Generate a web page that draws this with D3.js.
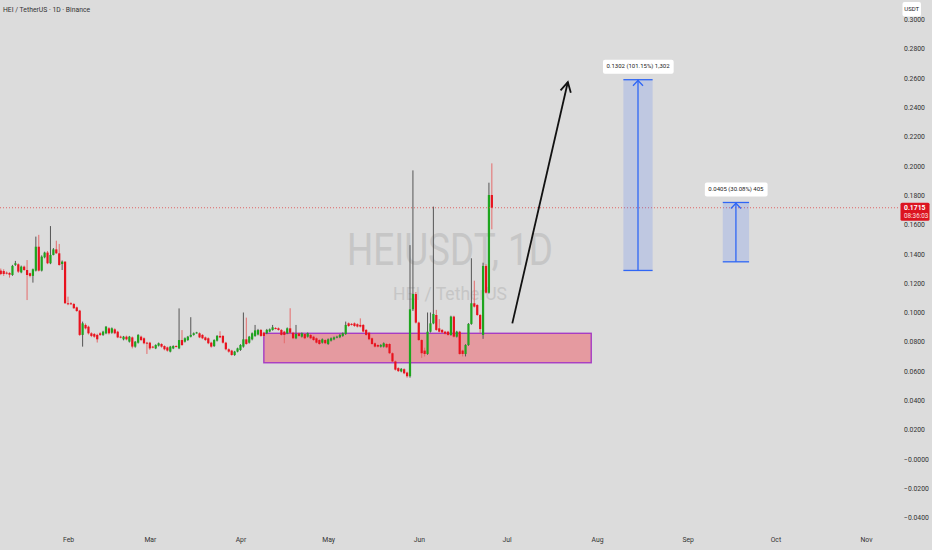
<!DOCTYPE html>
<html>
<head>
<meta charset="utf-8">
<script src="https://cdn.jsdelivr.net/npm/d3@7"></script>
<style>
  html, body { margin: 0; padding: 0; background: #dcdcdc; overflow: hidden; }
  svg { display: block; font-family: Roboto, "Noto Sans", sans-serif; }
</style>
</head>
<body>
<div id="wrapper"></div>
<script>
// daily candles, first one on 2025-01-09
const firstCandle = '2025-01-09'
const opens = [
  .1286, .1283, .1272, .1270, .1256, .1325, .1329, .1274, .1313, .1290,
  .1268, .1250, .1286, .1449, .1286, .1377, .1409, .1336, .1393, .1431,
  .1404, .1331, .1347, .1063, .1063, .1058, .1035, .1013, .0847, .0915,
  .0903, .0858, .0853, .0847, .0858, .0847, .0858, .0892, .0862, .0885,
  .0869, .0835, .0817, .0835, .0801, .0830, .0767, .0794, .0835, .0824,
  .0794, .0794, .0767, .0755, .0774, .0785, .0771, .0762, .0733, .0755,
  .0771, .0755, .0812, .0801, .0812, .0835, .0847, .0862, .0858, .0847,
  .0830, .0824, .0794, .0771, .0808, .0840, .0840, .0794, .0749, .0740,
  .0710, .0733, .0744, .0767, .0817, .0794, .0817, .0840, .0850, .0881,
  .0862, .0858, .0870, .0881, .0894, .0892, .0881, .0869, .0858, .0892,
  .0862, .0824, .0858, .0835, .0853, .0835, .0847, .0835, .0824, .0812,
  .0794, .0812, .0785, .0808, .0817, .0830, .0831, .0840, .0853, .0926,
  .0922, .0926, .0920, .0915, .0915, .0881, .0862, .0824, .0790, .0778,
  .0767, .0767, .0785, .0785, .0722, .0666, .0620, .0598, .0613, .0590,
  .0565, .1022, .1126, .0931, .0812, .0740, .0717, .0869, .0926, .0983,
  .0892, .0881, .0869, .0869, .0847, .0972, .0835, .0869, .0740, .0717,
  .0778, .0922, .1063, .1051, .0983, .0847, .1318, .1135, .1802
]
const highs = [
  .1300, .1295, .1280, .1275, .1325, .1352, .1335, .1320, .1320, .1358,
  .1272, .1300, .1518, .1530, .1390, .1415, .1420, .1590, .1440, .1490,
  .1468, .1355, .1350, .1108, .1070, .1065, .1040, .1018, .0938, .0925,
  .0910, .0865, .0860, .0855, .0866, .0875, .0908, .0900, .0898, .0892,
  .0875, .0842, .0840, .0842, .0840, .0836, .0805, .0852, .0842, .0830,
  .0800, .0800, .0772, .0783, .0795, .0790, .0776, .0767, .0772, .0776,
  .0776, .1028, .0880, .0830, .0840, .0968, .0864, .0868, .0864, .0852,
  .0836, .0830, .0800, .0817, .0846, .0872, .0846, .0800, .0755, .0745,
  .0738, .0760, .0784, .1000, .0965, .0840, .0864, .0915, .0888, .0887,
  .0868, .0888, .0891, .0915, .0900, .0898, .0887, .0875, .0898, .1029,
  .0868, .0915, .0864, .0864, .0859, .0864, .0853, .0841, .0830, .0818,
  .0823, .0818, .0823, .0830, .0836, .0841, .0853, .0864, .0938, .0932,
  .0928, .0932, .0926, .0960, .0921, .0887, .0868, .0830, .0796, .0784,
  .0784, .0796, .0791, .0791, .0728, .0672, .0626, .0621, .0619, .0596,
  .1460, .1970, .1140, .0937, .0818, .0760, .1000, .1000, .1723, .1018,
  .0955, .0887, .0875, .0875, .0978, .0978, .0875, .0875, .0746, .0784,
  .0928, .1370, .1217, .1057, .0989, .1340, .1330, .1886, .2018
]
const lows = [
  .1255, .1250, .1260, .1238, .1250, .1318, .1270, .1268, .1285, .1085,
  .1240, .1204, .1280, .1280, .1280, .1370, .1330, .1330, .1390, .1400,
  .1320, .1290, .1060, .1050, .1052, .1025, .1005, .0840, .0767, .0885,
  .0850, .0832, .0828, .0795, .0840, .0840, .0852, .0850, .0855, .0852,
  .0825, .0824, .0810, .0810, .0795, .0755, .0760, .0788, .0805, .0783,
  .0717, .0745, .0755, .0750, .0768, .0760, .0742, .0733, .0728, .0750,
  .0762, .0750, .0772, .0795, .0806, .0830, .0842, .0856, .0825, .0818,
  .0806, .0784, .0760, .0765, .0802, .0825, .0788, .0742, .0726, .0705,
  .0704, .0728, .0738, .0760, .0780, .0788, .0810, .0834, .0844, .0834,
  .0834, .0852, .0865, .0876, .0885, .0876, .0842, .0790, .0852, .0856,
  .0818, .0818, .0834, .0829, .0818, .0829, .0818, .0806, .0788, .0779,
  .0788, .0784, .0779, .0802, .0811, .0824, .0825, .0834, .0847, .0902,
  .0911, .0902, .0898, .0898, .0864, .0841, .0811, .0779, .0761, .0761,
  .0761, .0761, .0756, .0716, .0660, .0604, .0594, .0592, .0579, .0555,
  .0555, .1010, .0925, .0806, .0690, .0700, .0711, .0863, .0920, .0875,
  .0863, .0858, .0849, .0841, .0841, .0829, .0829, .0711, .0700, .0700,
  .0772, .0916, .1034, .0977, .0860, .0820, .1129, .1129, .1568
]
const closes = [
  .1263, .1263, .1268, .1258, .1318, .1336, .1279, .1313, .1290, .1256,
  .1250, .1295, .1449, .1286, .1381, .1409, .1336, .1393, .1431, .1404,
  .1324, .1347, .1063, .1058, .1058, .1029, .1010, .0847, .0926, .0892,
  .0858, .0840, .0835, .0817, .0847, .0869, .0903, .0858, .0892, .0858,
  .0830, .0830, .0835, .0817, .0835, .0767, .0801, .0847, .0812, .0790,
  .0790, .0755, .0760, .0778, .0790, .0767, .0749, .0740, .0767, .0771,
  .0767, .0812, .0778, .0824, .0835, .0847, .0858, .0864, .0830, .0824,
  .0812, .0790, .0767, .0812, .0840, .0830, .0794, .0749, .0733, .0710,
  .0733, .0755, .0778, .0817, .0785, .0835, .0858, .0878, .0880, .0840,
  .0840, .0881, .0885, .0899, .0890, .0881, .0847, .0847, .0892, .0862,
  .0824, .0853, .0840, .0858, .0824, .0858, .0824, .0812, .0794, .0785,
  .0817, .0790, .0817, .0824, .0830, .0835, .0847, .0858, .0915, .0908,
  .0917, .0908, .0904, .0904, .0870, .0847, .0817, .0785, .0767, .0767,
  .0778, .0790, .0762, .0722, .0666, .0610, .0600, .0615, .0585, .0565,
  .1022, .1126, .0931, .0812, .0722, .0717, .0869, .0926, .0990, .0881,
  .0869, .0864, .0855, .0847, .0972, .0835, .0869, .0717, .0717, .0778,
  .0922, .1063, .1040, .0983, .0887, .1318, .1135, .1802, .1715
]

const monthTicks = ['2025-02-01', '2025-03-01', '2025-04-01', '2025-05-01', '2025-06-01',
  '2025-07-01', '2025-08-01', '2025-09-01', '2025-10-01', '2025-11-01']
const priceTicks = [-0.04, -0.02, 0, 0.02, 0.04, 0.06, 0.08, 0.1, 0.12, 0.14, 0.16,
  0.18, 0.2, 0.22, 0.24, 0.26, 0.28, 0.3]

const lastPrice = 0.1715
const countdown = '08:36:03'
const quoteCurrency = 'USDT'
const headerText = 'HEI / TetherUS · 1D · Binance'
const watermarkTitle = 'HEIUSDT, 1D'
const watermarkSub = 'HEI / TetherUS'

// support zone (rectangle)
const zoneDates = ['2025-04-09', '2025-07-30']
const zonePrices = [0.0858, 0.0657]

// hand drawn arrow
const arrowDates = ['2025-07-03', '2025-07-22']
const arrowPrices = [0.0926, 0.2573]

// price range targets
const targetStart = ['2025-08-10', '2025-09-13']
const targetEnd = ['2025-08-20', '2025-09-22']
const targetFrom = [0.1287, 0.1346]
const targetTo = [0.2589, 0.1751]
const targetLabels = ['0.1302 (101.15%) 1,302', '0.0405 (30.08%) 405']

const width = 932
const height = 550
const axisLeft = 900

const parseDay = d3.utcParse('%Y-%m-%d')
const day0 = parseDay(firstCandle)
const candles = opens.map((o, i) => ({
  date: d3.utcDay.offset(day0, i),
  open: o,
  high: highs[i],
  low: lows[i],
  close: closes[i],
}))

const xScale = d3
  .scaleUtc()
  .domain([parseDay('2025-02-01'), parseDay('2025-11-01')])
  .range([68, 866])
const yScale = d3.scaleLinear().domain([0, 0.28]).range([459, 48.8])

const svg = d3
  .select('#wrapper')
  .append('svg')
  .attr('width', width)
  .attr('height', height)

svg.append('rect').attr('width', width).attr('height', height).attr('fill', '#dcdcdc')

// watermark
svg
  .append('text')
  .attr('x', 450)
  .attr('y', 265)
  .attr('text-anchor', 'middle')
  .attr('font-size', 44)
  .attr('fill', '#c6c6c6')
  .attr('textLength', 206)
  .attr('lengthAdjust', 'spacingAndGlyphs')
  .text(watermarkTitle)
svg
  .append('text')
  .attr('x', 450)
  .attr('y', 300)
  .attr('text-anchor', 'middle')
  .attr('font-size', 19)
  .attr('fill', '#c6c6c6')
  .attr('textLength', 114)
  .attr('lengthAdjust', 'spacingAndGlyphs')
  .text(watermarkSub)

// support zone
const zx0 = xScale(parseDay(zoneDates[0]))
const zx1 = xScale(parseDay(zoneDates[1]))
svg
  .append('rect')
  .attr('x', zx0)
  .attr('y', yScale(zonePrices[0]))
  .attr('width', zx1 - zx0)
  .attr('height', yScale(zonePrices[1]) - yScale(zonePrices[0]))
  .attr('fill', 'rgba(242,54,69,0.4)')
  .attr('stroke', '#a63cc4')
  .attr('stroke-width', 1.4)

// candles
const upColor = '#1ea51e'
const downColor = '#e8121e'
const candleG = svg.append('g')
candleG
  .selectAll('line')
  .data(candles)
  .join('line')
  .attr('x1', (d) => xScale(d.date))
  .attr('x2', (d) => xScale(d.date))
  .attr('y1', (d) => yScale(d.high))
  .attr('y2', (d) => yScale(d.low))
  .attr('stroke', (d) => (d.close >= d.open ? '#555' : '#e56b6b'))
  .attr('stroke-width', 1)
candleG
  .selectAll('rect')
  .data(candles)
  .join('rect')
  .attr('x', (d) => xScale(d.date) - 1.1)
  .attr('width', 2.2)
  .attr('y', (d) => yScale(Math.max(d.open, d.close)))
  .attr('height', (d) => Math.max(1, Math.abs(yScale(d.open) - yScale(d.close))))
  .attr('fill', (d) => (d.close >= d.open ? upColor : downColor))

// current price line
svg
  .append('line')
  .attr('x1', 0)
  .attr('x2', axisLeft)
  .attr('y1', yScale(lastPrice))
  .attr('y2', yScale(lastPrice))
  .attr('stroke', '#e04848')
  .attr('stroke-width', 0.8)
  .attr('stroke-dasharray', '1,2')

// arrow
const ax0 = xScale(parseDay(arrowDates[0]))
const ay0 = yScale(arrowPrices[0])
const ax1 = xScale(parseDay(arrowDates[1]))
const ay1 = yScale(arrowPrices[1])
const ang = Math.atan2(ay1 - ay0, ax1 - ax0)
const headLen = 11
const headSpread = 0.5
svg
  .append('line')
  .attr('x1', ax0)
  .attr('y1', ay0)
  .attr('x2', ax1)
  .attr('y2', ay1)
  .attr('stroke', '#111')
  .attr('stroke-width', 1.8)
svg
  .append('path')
  .attr(
    'd',
    `M${ax1 - headLen * Math.cos(ang - headSpread)},${ay1 - headLen * Math.sin(ang - headSpread)}` +
      `L${ax1},${ay1}` +
      `L${ax1 - headLen * Math.cos(ang + headSpread)},${ay1 - headLen * Math.sin(ang + headSpread)}`,
  )
  .attr('fill', 'none')
  .attr('stroke', '#111')
  .attr('stroke-width', 1.8)
  .attr('stroke-linejoin', 'miter')

// price range targets
const blue = '#2f66f5'
targetLabels.forEach((label, i) => {
  const x0 = xScale(parseDay(targetStart[i]))
  const x1 = xScale(parseDay(targetEnd[i]))
  const yTop = yScale(targetTo[i])
  const yBot = yScale(targetFrom[i])
  const cx = (x0 + x1) / 2
  const g = svg.append('g')
  g.append('rect')
    .attr('x', x0)
    .attr('y', yTop)
    .attr('width', x1 - x0)
    .attr('height', yBot - yTop)
    .attr('fill', 'rgba(41,98,255,0.16)')
  g.append('line').attr('x1', x0).attr('x2', x1).attr('y1', yTop).attr('y2', yTop)
    .attr('stroke', blue).attr('stroke-width', 1.3)
  g.append('line').attr('x1', x0).attr('x2', x1).attr('y1', yBot).attr('y2', yBot)
    .attr('stroke', blue).attr('stroke-width', 1.3)
  g.append('line').attr('x1', cx).attr('x2', cx).attr('y1', yBot).attr('y2', yTop)
    .attr('stroke', blue).attr('stroke-width', 1.3)
  g.append('path')
    .attr('d', `M${cx - 5},${yTop + 6}L${cx},${yTop + 0.8}L${cx + 5},${yTop + 6}`)
    .attr('fill', 'none')
    .attr('stroke', blue)
    .attr('stroke-width', 1.3)
  const lbl = g.append('text')
    .attr('x', cx)
    .attr('y', yTop - 13)
    .attr('text-anchor', 'middle')
    .attr('dominant-baseline', 'middle')
    .attr('font-size', 6)
    .attr('fill', '#222')
    .text(label)
  const bb = lbl.node().getBBox()
  g.insert('rect', 'text')
    .attr('x', bb.x - 3.5)
    .attr('y', yTop - 20)
    .attr('width', bb.width + 7)
    .attr('height', 14)
    .attr('rx', 2)
    .attr('fill', '#fff')
})

// right price axis
const yAxis = svg
  .append('g')
  .attr('transform', `translate(${axisLeft},0)`)
  .call(
    d3
      .axisRight(yScale)
      .tickValues(priceTicks)
      .tickSize(0)
      .tickPadding(4)
      .tickFormat((d) => (d <= 0 ? '−' + d3.format('.4f')(Math.abs(d)) : d3.format('.4f')(d))),
  )
yAxis.select('.domain').remove()
yAxis.selectAll('text').attr('font-size', 6.8).attr('fill', '#333').attr('font-family', 'Roboto, sans-serif')

// currency tag
svg.append('rect').attr('x', 902.5).attr('y', 2).attr('width', 18.5).attr('height', 14.5)
  .attr('rx', 2).attr('fill', '#fff')
svg.append('text').attr('x', 911.7).attr('y', 9.6).attr('text-anchor', 'middle')
  .attr('dominant-baseline', 'middle').attr('font-size', 6).attr('fill', '#222')
  .text(quoteCurrency)

// last price tag: price centred on the line, countdown below
const yLast = yScale(lastPrice)
svg.append('rect').attr('x', 900.5).attr('y', yLast - 5).attr('width', 29).attr('height', 18)
  .attr('rx', 1.5).attr('fill', '#dc1420')
svg.append('text').attr('x', 904).attr('y', yLast + 0.8).attr('dominant-baseline', 'middle')
  .attr('font-size', 6.8).attr('font-weight', 'bold').attr('fill', '#fff')
  .text(d3.format('.4f')(lastPrice))
svg.append('text').attr('x', 904).attr('y', yLast + 8.8).attr('dominant-baseline', 'middle')
  .attr('font-size', 6.3).attr('fill', '#fde0e0')
  .text(countdown)

// bottom time axis
const xAxis = svg
  .append('g')
  .attr('transform', 'translate(0,537)')
  .call(
    d3
      .axisBottom(xScale)
      .tickValues(monthTicks.map(parseDay))
      .tickSize(0)
      .tickPadding(0)
      .tickFormat(d3.utcFormat('%b')),
  )
xAxis.select('.domain').remove()
xAxis.selectAll('text').attr('font-size', 6.8).attr('fill', '#333').attr('font-family', 'Roboto, sans-serif')

// header
svg.append('text').attr('x', 3).attr('y', 11.5).attr('font-size', 6.8).attr('fill', '#333')
  .text(headerText)
</script>
</body>
</html>
